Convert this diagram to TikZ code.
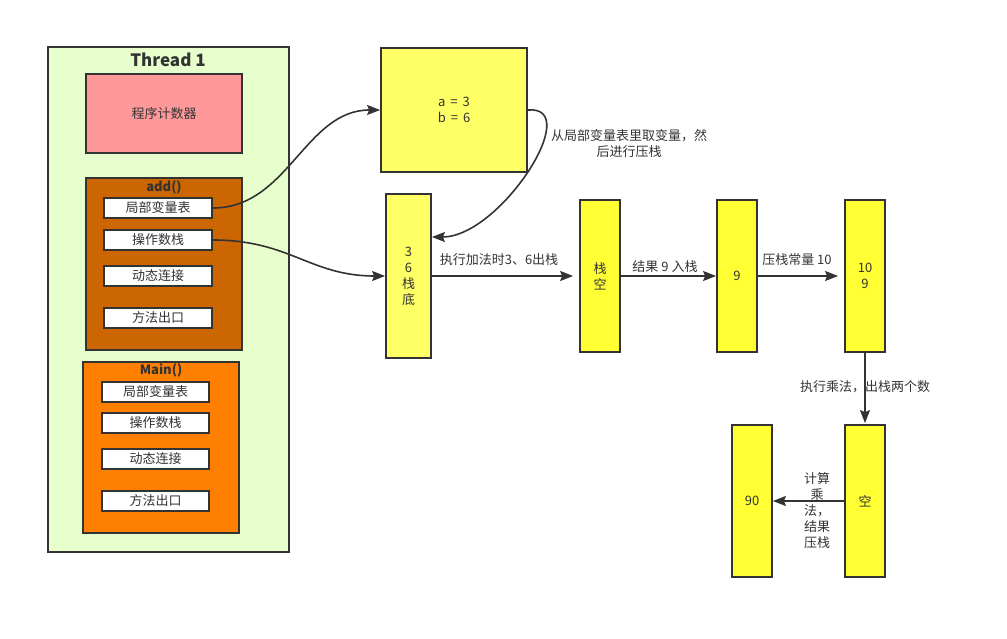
\documentclass[tikz,border=0pt]{standalone}
\usepackage{fontspec}
\setmainfont{Noto Sans CJK SC}
\usetikzlibrary{arrows.meta}
\definecolor{strk}{HTML}{333333}
\definecolor{threadfill}{HTML}{E6FFCC}
\definecolor{pcfill}{HTML}{FF9999}
\definecolor{addfill}{HTML}{CC6600}
\definecolor{mainfill}{HTML}{FF8000}
\definecolor{ylight}{HTML}{FFFF66}
\definecolor{ybright}{HTML}{FFFF33}
\begin{document}
\begin{tikzpicture}[x=1pt,y=-1pt,
  every node/.style={font=\fontsize{13}{16}\selectfont, text=strk},
  box/.style={draw=strk, line width=1.8pt, rectangle, inner sep=0pt, align=center},
  wbox/.style={box, fill=white, minimum width=108pt, minimum height=20pt},
  col/.style={box, fill=ybright, minimum width=40pt, minimum height=152pt},
  title/.style={font=\fontsize{13}{16}\selectfont\bfseries},
  conn/.style={draw=strk, line width=1.6pt, -{Stealth[length=13pt,width=10pt,inset=2pt]}},
  lbl/.style={align=center, inner sep=1pt}
]
\useasboundingbox (0,0) rectangle (1007,639);

% Thread
\node[box, fill=threadfill, minimum width=241pt, minimum height=505pt] (thread) at (168.5,299.5) {};
\node[font=\fontsize{17}{20}\selectfont\bfseries] (threadt) at (168,60) {Thread 1};
\node[box, fill=pcfill, minimum width=156pt, minimum height=79pt] (pc) at (164,113.5) {程序计数器};

% add()
\node[box, fill=addfill, minimum width=156pt, minimum height=172pt] (add) at (164,264) {};
\node[title] (addt) at (164,187) {add()};
\node[wbox] (alv) at (158,208) {局部变量表};
\node[wbox] (aos) at (158,240) {操作数栈};
\node[wbox] (adl) at (158,276) {动态连接};
\node[wbox] (aex) at (158,318) {方法出口};

% Main()
\node[box, fill=mainfill, minimum width=156pt, minimum height=171pt] (mn) at (161,447.5) {};
\node[title] (mnt) at (161,370) {Main()};
\node[wbox, minimum width=107pt] (mlv) at (155.5,392) {局部变量表};
\node[wbox, minimum width=107pt] (mos) at (155.5,423) {操作数栈};
\node[wbox, minimum width=107pt] (mdl) at (155.5,459) {动态连接};
\node[wbox, minimum width=107pt] (mex) at (155.5,501) {方法出口};

% stack states
\node[box, fill=ylight, minimum width=146pt, minimum height=124pt] (ab) at (454,110) {a\hspace{5pt}=\hspace{5pt}3\\b\hspace{5pt}=\hspace{5pt}6};
\node[box, fill=ylight, minimum width=45pt, minimum height=164pt] (s36) at (408.5,276) {3\\6\\栈\\底};
\node[col] (sempty) at (600,276) {栈\\空};
\node[col] (s9) at (737,276) {9};
\node[col] (s109) at (865,276) {10\\9};
\node[col] (sk) at (865,501) {空};
\node[col] (s90) at (752,501) {90};

% connectors
\draw[conn] (alv.east) .. controls (288,208) and (305,110) .. (ab.west);
\draw[conn] (ab.east) .. controls (585,105) and (500,237) .. (s36.east |- 0,237);
\draw[conn] (aos.east) .. controls (290,240) and (310,276) .. (s36.west);
\draw[conn, shorten >=6pt] (s36.east) -- (sempty.west);
\draw[conn] (sempty.east) -- (s9.west);
\draw[conn, shorten >=6pt] (s9.east) -- (s109.west);
\draw[conn, shorten >=1pt] (s109.south) -- (sk.north);
\draw[conn] (sk.west) -- (s90.east);

% labels
\node[lbl] (l1) at (629,144) {从局部变量表里取变量，然\\后进行压栈};
\node[lbl] (l2) at (499,260) {执行加法时3、6出栈};
\node[lbl] (l3) at (665,267) {结果 9 入栈};
\node[lbl] (l4) at (797,260) {压栈常量 10};
\node[lbl] (l5) at (865,387) {执行乘法，出栈两个数};
\node[lbl] (l6) at (817,511) {计算\\乘\\法，\\结果\\压栈};
\end{tikzpicture}
\end{document}
